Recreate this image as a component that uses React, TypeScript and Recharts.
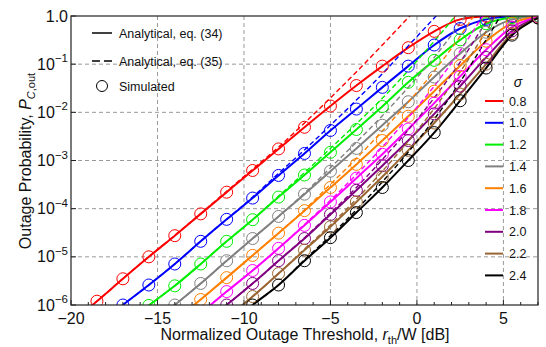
import { ComposedChart, Line, XAxis, YAxis, CartesianGrid } from "recharts";

// threshold r_th/W in dB, sampled every 1.5 dB
const THRESHOLD_DB = [-20, -18.5, -17, -15.5, -14, -12.5, -11, -9.5, -8, -6.5, -5, -3.5, -2, -0.5, 1, 2.5, 4, 5.5, 7];

const X_TICKS = [-20, -19, -18, -17, -16, -15, -14, -13, -12, -11, -10, -9, -8, -7, -6, -5, -4, -3, -2, -1, 0, 1, 2, 3, 4, 5, 6, 7];
const X_GRID = [-15, -10, -5, 0, 5];
const Y_TICKS = [1e-6, 1e-5, 1e-4, 1e-3, 1e-2, 1e-1, 1];
const Y_GRID = [1e-5, 1e-4, 1e-3, 1e-2, 1e-1];

const SIGMAS = ["0.8", "1.0", "1.2", "1.4", "1.6", "1.8", "2.0", "2.2", "2.4"];
const COLORS = ["#ff0000", "#0000ff", "#00ee00", "#808080", "#ff8000", "#ff00ff", "#800080", "#996633", "#000000"];

// eq. (34) -- the simulated circles sit on these
const EQ34_08 = [4.3e-7, 1.2e-6, 3.5e-6, 1.0e-5, 2.75e-5, 7.8e-5, 2.2e-4, 6.2e-4, 1.74e-3, 4.9e-3, 1.35e-2, 3.6e-2, 9.1e-2, 0.22, 0.48, 0.85, 0.99, 1, 1];
const EQ34_10 = [null, 3.6e-7, 1.0e-6, 2.6e-6, 7.1e-6, 2.1e-5, 6.0e-5, 1.66e-4, 4.9e-4, 1.4e-3, 4.2e-3, 1.17e-2, 3.3e-2, 9.1e-2, 0.25, 0.55, 0.85, 0.98, 1];
const EQ34_12 = [null, null, 3.7e-7, 9.8e-7, 2.5e-6, 7.1e-6, 2.1e-5, 5.9e-5, 1.74e-4, 5.0e-4, 1.48e-3, 4.4e-3, 1.32e-2, 4.2e-2, 0.12, 0.32, 0.69, 0.93, 1];
const EQ34_14 = [null, null, null, 3.5e-7, 1.0e-6, 2.8e-6, 8.3e-6, 2.4e-5, 6.9e-5, 2.0e-4, 6.0e-4, 1.78e-3, 5.4e-3, 1.66e-2, 5.4e-2, 0.166, 0.46, 0.85, 0.99];
const EQ34_16 = [null, null, null, null, 4.7e-7, 1.3e-6, 3.7e-6, 1.07e-5, 3.1e-5, 9.1e-5, 2.75e-4, 8.3e-4, 2.6e-3, 8.3e-3, 2.75e-2, 9.3e-2, 0.3, 0.71, 0.97];
const EQ34_18 = [null, null, null, null, null, 6.8e-7, 1.9e-6, 5.2e-6, 1.5e-5, 4.5e-5, 1.38e-4, 4.3e-4, 1.35e-3, 4.5e-3, 1.55e-2, 5.6e-2, 0.2, 0.59, 0.94];
const EQ34_20 = [null, null, null, null, null, 3.5e-7, 1.0e-6, 2.8e-6, 8.3e-6, 2.4e-5, 7.6e-5, 2.4e-4, 7.8e-4, 2.6e-3, 9.3e-3, 3.5e-2, 0.138, 0.49, 0.92];
const EQ34_22 = [null, null, null, null, null, null, 5.4e-7, 1.5e-6, 4.5e-6, 1.38e-5, 4.2e-5, 1.38e-4, 4.6e-4, 1.62e-3, 6.0e-3, 2.4e-2, 0.1, 0.43, 0.91];
const EQ34_24 = [null, null, null, null, null, null, 3.5e-7, 1.0e-6, 2.6e-6, 8.3e-6, 2.5e-5, 8.3e-5, 2.75e-4, 1.0e-3, 3.8e-3, 1.74e-2, 8.3e-2, 0.4, 0.91];

// eq. (35), runs off the top of the frame
const EQ35_08 = [4.3e-7, 1.2e-6, 3.5e-6, 1.0e-5, 2.8e-5, 7.9e-5, 2.3e-4, 6.6e-4, 1.9e-3, 6.0e-3, 2.0e-2, 6.9e-2, 0.25, 0.93, 3.5, null, null, null, null];
const EQ35_10 = [null, 3.6e-7, 1.0e-6, 2.6e-6, 7.1e-6, 2.1e-5, 6.0e-5, 1.74e-4, 5.4e-4, 1.66e-3, 5.4e-3, 1.8e-2, 6.3e-2, 0.24, 0.91, 3.5, null, null, null];
const EQ35_12 = [null, null, 3.7e-7, 9.8e-7, 2.5e-6, 7.1e-6, 2.1e-5, 5.9e-5, 1.82e-4, 5.6e-4, 1.78e-3, 5.8e-3, 1.95e-2, 7.4e-2, 0.3, 1.32, null, null, null];
const EQ35_14 = [null, null, null, 3.5e-7, 1.0e-6, 2.8e-6, 8.3e-6, 2.4e-5, 6.9e-5, 2.1e-4, 7.1e-4, 2.4e-3, 8.5e-3, 3.3e-2, 0.138, 0.71, 4.0, null, null];
const EQ35_16 = [null, null, null, null, 4.7e-7, 1.3e-6, 3.7e-6, 1.07e-5, 3.1e-5, 9.5e-5, 3.2e-4, 1.1e-3, 4.1e-3, 1.62e-2, 7.2e-2, 0.38, 2.5, null, null];
const EQ35_18 = [null, null, null, null, null, 6.8e-7, 1.9e-6, 5.2e-6, 1.5e-5, 4.7e-5, 1.5e-4, 5.1e-4, 1.9e-3, 7.8e-3, 3.5e-2, 0.19, 1.26, 7.9, null];
const EQ35_20 = [null, null, null, null, null, 3.5e-7, 1.0e-6, 2.8e-6, 8.3e-6, 2.5e-5, 8.1e-5, 2.75e-4, 1.05e-3, 4.3e-3, 2.0e-2, 0.11, 0.76, 5.6, null];
const EQ35_22 = [null, null, null, null, null, null, 5.4e-7, 1.5e-6, 4.5e-6, 1.45e-5, 4.6e-5, 1.58e-4, 6.0e-4, 2.5e-3, 1.2e-2, 6.9e-2, 0.48, 3.5, null];
const EQ35_24 = [null, null, null, null, null, null, 3.5e-7, 1.0e-6, 2.6e-6, 8.7e-6, 2.75e-5, 9.5e-5, 3.6e-4, 1.5e-3, 7.2e-3, 4.3e-2, 0.32, 2.5, null];

const EQ34 = [EQ34_08, EQ34_10, EQ34_12, EQ34_14, EQ34_16, EQ34_18, EQ34_20, EQ34_22, EQ34_24];
const EQ35 = [EQ35_08, EQ35_10, EQ35_12, EQ35_14, EQ35_16, EQ35_18, EQ35_20, EQ35_22, EQ35_24];

const chartData = THRESHOLD_DB.map((x, i) => {
  const row: any = { x };
  SIGMAS.forEach((_, k) => {
    row[`a${k}`] = EQ34[k][i];
    row[`b${k}`] = EQ35[k][i];
  });
  return row;
});

const FONT = '"Liberation Sans", Arial, Helvetica, sans-serif';
const FRAME = "#222";

const XTick = ({ x, y, payload }: any) => {
  const v = payload.value;
  const major = v % 5 === 0;
  return (
    <g>
      <line x1={x} x2={x} y1={y} y2={y - (major ? 5 : 3)} stroke={FRAME} strokeWidth={1} />
      {major && (
        <text x={x} y={y + 18.5} textAnchor="middle" fontSize={16} fill="#111">
          {v < 0 ? `\u2212${-v}` : `${v}`}
        </text>
      )}
    </g>
  );
};

const YTick = ({ x, y, payload }: any) => {
  const exp = Math.round(Math.log10(payload.value));
  return (
    <g>
      <line x1={x} x2={x + 5} y1={y} y2={y} stroke={FRAME} strokeWidth={1} />
      {exp === 0 ? (
        <text x={x - 3} y={y + 5.5} textAnchor="end" fontSize={16} fill="#111">1.0</text>
      ) : (
        <text x={x - 3} y={y + 5.5} textAnchor="end" fontSize={16} fill="#111">
          10<tspan dy={-7.5} fontSize={11.5}>{`\u2212${-exp}`}</tspan>
        </text>
      )}
    </g>
  );
};

export default function App() {
  return (
    <div style={{ position: "absolute", left: 0, top: 0, width: 546, height: 347, background: "#fff", fontFamily: FONT }}>
      <ComposedChart width={546} height={347} data={chartData} margin={{ top: 16, right: 8, bottom: 0, left: 0 }}>
        <CartesianGrid stroke="#9a9a9a" strokeDasharray="4 3" horizontalValues={Y_GRID} verticalValues={X_GRID} />
        <XAxis type="number" dataKey="x" domain={[-20, 7]} ticks={X_TICKS} interval={0} allowDataOverflow
          height={42} axisLine={false} tickLine={false} tickSize={0} tickMargin={0} tick={<XTick />} />
        <YAxis type="number" scale="log" domain={[1e-6, 1]} ticks={Y_TICKS} interval={0} allowDataOverflow
          width={71} axisLine={false} tickLine={false} tickSize={0} tickMargin={0} tick={<YTick />} />
        {SIGMAS.map((s, k) => (
          <Line key={`a${k}`} dataKey={`a${k}`} type="monotone" stroke={COLORS[k]} strokeWidth={2}
            dot={false} activeDot={false} isAnimationActive={false} legendType="none" />
        ))}
        {SIGMAS.map((s, k) => (
          <Line key={`b${k}`} dataKey={`b${k}`} type="monotone" stroke={COLORS[k]} strokeWidth={1.4}
            strokeDasharray="5 3" dot={false} activeDot={false} isAnimationActive={false} legendType="none" />
        ))}
        {SIGMAS.map((s, k) => (
          <Line key={`c${k}`} dataKey={`a${k}`} stroke="none"
            dot={{ r: 6, stroke: COLORS[k], strokeWidth: 1, fill: "none" }}
            activeDot={false} isAnimationActive={false} legendType="none" />
        ))}
      </ComposedChart>
      <svg width={546} height={347} style={{ position: "absolute", left: 0, top: 0, pointerEvents: "none" }}>
        <rect x={71} y={16} width={467} height={289} fill="none" stroke={FRAME} strokeWidth={1.2} />
        {/* series legend */}
        <line x1={92} x2={112} y1={33} y2={33} stroke="#000" strokeWidth={1.5} />
        <text x={119} y={37.5} fontSize={12.5} fill="#111">Analytical, eq. (34)</text>
        <line x1={92} x2={112} y1={61} y2={61} stroke="#000" strokeWidth={1.5} strokeDasharray="8 4" />
        <text x={119} y={65.5} fontSize={12.5} fill="#111">Analytical, eq. (35)</text>
        <circle cx={102} cy={86} r={5.5} fill="none" stroke="#000" strokeWidth={1} />
        <text x={119} y={90.5} fontSize={12.5} fill="#111">Simulated</text>
        {/* sigma legend */}
        <text x={518} y={87} fontSize={14} fontStyle="italic" textAnchor="middle" fill="#111">σ</text>
        {SIGMAS.map((s, k) => (
          <g key={s}>
            <line x1={485} x2={503} y1={101 + 21.8 * k} y2={101 + 21.8 * k} stroke={COLORS[k]} strokeWidth={2} />
            <text x={509} y={105.5 + 21.8 * k} fontSize={12.5} fill="#111">{s}</text>
          </g>
        ))}
        {/* axis titles */}
        <text x={305} y={340} textAnchor="middle" fontSize={16} fill="#111">
          Normalized Outage Threshold, <tspan fontStyle="italic">r</tspan>
          <tspan fontSize={11} dy={3.5}>th</tspan>
          <tspan dy={-3.5}>/W [dB]</tspan>
        </text>
        <text transform="translate(31,161) rotate(-90)" textAnchor="middle" fontSize={16} fill="#111">
          Outage Probability, <tspan fontStyle="italic">P</tspan>
          <tspan fontSize={11} dy={3.5} fontStyle="italic">C</tspan>
          <tspan fontSize={11}>,out</tspan>
        </text>
      </svg>
    </div>
  );
}
